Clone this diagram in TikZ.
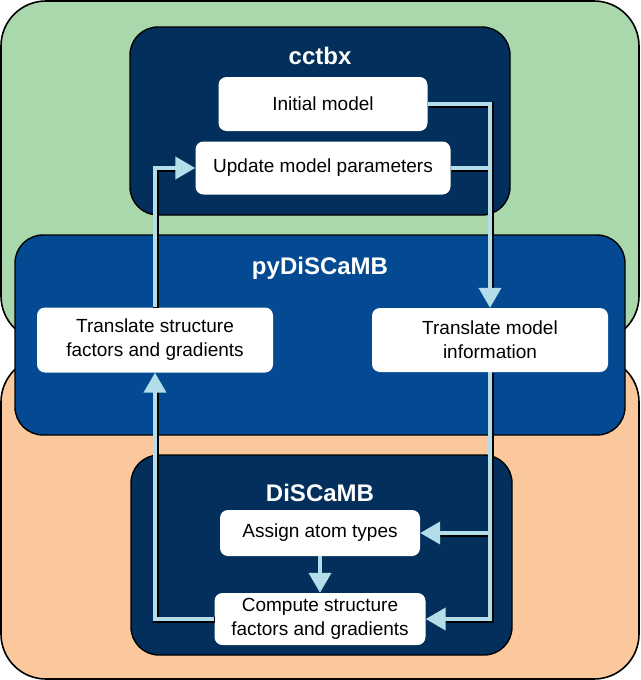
\documentclass[tikz,border=0pt]{standalone}
\usepackage{fontspec}
\setmainfont{Liberation Sans}
\usetikzlibrary{arrows.meta}
\definecolor{grn}{HTML}{A9D8AC}
\definecolor{org}{HTML}{FAC89C}
\definecolor{navy}{HTML}{022F5C}
\definecolor{midblue}{HTML}{034A92}
\definecolor{lb}{HTML}{B3DDE9}
\tikzset{
  outer/.style={draw=black, line width=1.6pt, rounded corners=45pt},
  inner/.style={draw=black, line width=1.4pt, rounded corners=28pt},
  title/.style={text=white, font=\fontsize{24}{26}\selectfont\bfseries},
  wbox/.style={fill=white, rounded corners=8pt, align=center, inner sep=2pt,
    font=\fontsize{19}{24}\selectfont},
  shad/.style={draw=black, line width=6pt, line join=miter, shorten >=16pt, transform canvas={xshift=1pt,yshift=-1pt}},
  conn/.style={draw=lb, line width=4pt, line join=miter},
  tip/.style={-{Triangle[length=20pt,width=22pt,fill=lb,color=lb]}},
}
\begin{document}
\begin{tikzpicture}[x=1pt,y=-1pt]
\useasboundingbox (0,0) rectangle (640,680);
% backgrounds
\draw[outer, fill=grn] (1,1) rectangle (639,341);
\draw[outer, fill=org] (1,357) rectangle (639,679);
\draw[inner, fill=midblue] (15,235) rectangle (625,435);
\draw[inner, fill=navy] (130,27) rectangle (510,215);
\draw[inner, fill=navy] (131,455) rectangle (512,655);
% titles
\node[title] (tc) at (320,56) {cctbx};
\node[title] (tp) at (320,268) {pyDiSCaMB};
\node[title] (td) at (320,493) {DiSCaMB};
% boxes
\node[wbox, minimum width=209pt, minimum height=54pt] (im) at (323,104) {Initial model};
\node[wbox, minimum width=255pt, minimum height=53pt] (ump) at (323,168) {Update model parameters};
\node[wbox, minimum width=236pt, minimum height=65pt] (tsf) at (155,340) {Translate structure\\factors and gradients};
\node[wbox, minimum width=236pt, minimum height=64pt] (tmi) at (490,340) {Translate model\\information};
\node[wbox, minimum width=200pt, minimum height=46pt] (aat) at (320,533) {Assign atom types};
\node[wbox, minimum width=211pt, minimum height=52pt] (csf) at (320,619) {Compute structure\\factors and gradients};
\coordinate (j1) at (ump.east -| tmi.north);
\coordinate (j2) at (aat.east -| tmi.south);
% shadows
\draw[shad] (im.east) -| (tmi.north);
\draw[shad, shorten >=0pt] (ump.east) -- (j1);
\draw[shad] (tmi.south) |- (csf.east);
\draw[shad] (j2) -- (aat.east);
\draw[shad] (csf.west) -| (tsf.south);
\draw[shad] (tsf.north) |- (ump.west);
% connectors
\draw[conn, tip] (im.east) -| (tmi.north);
\draw[conn] (ump.east) -- (j1);
\draw[conn, tip] (tmi.south) |- (csf.east);
\draw[conn, tip] (j2) -- (aat.east);
\draw[conn, tip] (csf.west) -| (tsf.south);
\draw[conn, tip] (tsf.north) |- (ump.west);
\draw[conn, tip] (aat.south) -- (csf.north);
\end{tikzpicture}
\end{document}
